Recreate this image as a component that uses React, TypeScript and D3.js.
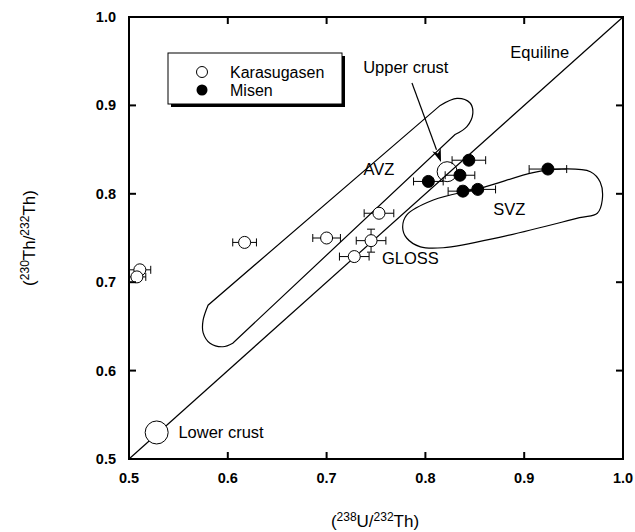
import React from "react";
import * as d3 from "d3";

const W = 635;
const H = 532;

// Karasugasen (open circles)
const karX = [0.511, 0.508, 0.617, 0.7, 0.753, 0.745, 0.728];
const karY = [0.714, 0.706, 0.745, 0.75, 0.778, 0.747, 0.729];
const karXErr = [0.011, 0.009, 0.012, 0.014, 0.015, 0.015, 0.015];
const karYErr = [0, 0, 0, 0, 0, 0.013, 0];

// Misen (filled circles)
const misX = [0.844, 0.835, 0.803, 0.838, 0.853, 0.924];
const misY = [0.838, 0.821, 0.814, 0.803, 0.805, 0.828];
const misXErr = [0.017, 0.015, 0.015, 0.015, 0.018, 0.019];

// Reference reservoirs
const crustNames = ["Upper crust", "Lower crust"];
const crustX = [0.822, 0.528];
const crustY = [0.825, 0.53];

// AVZ field: upper cap and lower cap (joined by straight sides)
const avzTopX = [0.815, 0.832, 0.845, 0.848, 0.842, 0.83];
const avzTopY = [0.9, 0.908, 0.903, 0.891, 0.876, 0.867];
const avzBotX = [0.605, 0.595, 0.582, 0.575, 0.575, 0.58];
const avzBotY = [0.631, 0.627, 0.631, 0.643, 0.657, 0.674];
// SVZ field outline
const svzX = [0.777, 0.781, 0.808, 0.858, 0.909, 0.936, 0.967, 0.977, 0.979, 0.974, 0.956, 0.876, 0.818, 0.795, 0.781];
const svzY = [0.762, 0.776, 0.793, 0.807, 0.824, 0.828, 0.825, 0.813, 0.793, 0.778, 0.773, 0.751, 0.739, 0.74, 0.75];

const ticks = [0.5, 0.6, 0.7, 0.8, 0.9, 1.0];

// Annotations (data coordinates)
const labelText = ["AVZ", "SVZ", "GLOSS", "Upper crust", "Equiline", "Lower crust"];
const labelX = [0.753, 0.885, 0.756, 0.737, 0.886, 0.55];
const labelY = [0.821, 0.776, 0.721, 0.937, 0.954, 0.524];
const labelAnchor = ["middle", "middle", "start", "start", "start", "start"];
const arrowFrom = [0.7864, 0.9253];
const arrowTo = [0.8158, 0.836];

const FONT = "'Liberation Sans', Arial, sans-serif";

export default function App() {
  const x = d3.scaleLinear().domain([0.5, 1.0]).range([129, 623]);
  const y = d3.scaleLinear().domain([0.5, 1.0]).range([459, 17]);

  const closed = d3
    .line<[number, number]>()
    .x((d) => x(d[0]))
    .y((d) => y(d[1]))
    .curve(d3.curveCatmullRomClosed.alpha(0.5));
  const open = d3
    .line<[number, number]>()
    .x((d) => x(d[0]))
    .y((d) => y(d[1]))
    .curve(d3.curveCatmullRom.alpha(0.5));

  const avzTop = avzTopX.map((v, i) => [v, avzTopY[i]] as [number, number]);
  const avzBot = avzBotX.map((v, i) => [v, avzBotY[i]] as [number, number]);
  const avzPath = (open(avzTop) || "") + (open(avzBot) || "").replace(/^M/, "L") + "Z";
  const svz = svzX.map((v, i) => [v, svzY[i]] as [number, number]);

  const cap = 4;
  const tickLen = 7;

  const ax0 = x(arrowFrom[0]);
  const ay0 = y(arrowFrom[1]);
  const ax1 = x(arrowTo[0]);
  const ay1 = y(arrowTo[1]);
  const ang = Math.atan2(ay1 - ay0, ax1 - ax0);
  const hl = 13;
  const hw = 4.5;
  const bx = ax1 - hl * Math.cos(ang);
  const by = ay1 - hl * Math.sin(ang);
  const head = [
    [ax1, ay1],
    [bx + hw * Math.sin(ang), by - hw * Math.cos(ang)],
    [ax1 - hl * 0.7 * Math.cos(ang), ay1 - hl * 0.7 * Math.sin(ang)],
    [bx - hw * Math.sin(ang), by + hw * Math.cos(ang)],
  ]
    .map((p) => p.join(","))
    .join(" ");

  const errH = (cx: number, cy: number, e: number, key: string) => (
    <g key={key} stroke="#000" strokeWidth={1}>
      <line x1={x(cx - e)} x2={x(cx + e)} y1={y(cy)} y2={y(cy)} />
      <line x1={x(cx - e)} x2={x(cx - e)} y1={y(cy) - cap} y2={y(cy) + cap} />
      <line x1={x(cx + e)} x2={x(cx + e)} y1={y(cy) - cap} y2={y(cy) + cap} />
    </g>
  );
  const errV = (cx: number, cy: number, e: number, key: string) => (
    <g key={key} stroke="#000" strokeWidth={1}>
      <line x1={x(cx)} x2={x(cx)} y1={y(cy - e)} y2={y(cy + e)} />
      <line x1={x(cx) - cap} x2={x(cx) + cap} y1={y(cy - e)} y2={y(cy - e)} />
      <line x1={x(cx) - cap} x2={x(cx) + cap} y1={y(cy + e)} y2={y(cy + e)} />
    </g>
  );

  return (
    <svg
      width={W}
      height={H}
      style={{ position: "absolute", left: 0, top: 0, background: "#fff" }}
      fontFamily={FONT}
    >
      <rect x={0} y={0} width={W} height={H} fill="#fff" />
      <defs>
        <clipPath id="plot">
          <rect x={129} y={17} width={494} height={442} />
        </clipPath>
      </defs>

      {/* Equiline */}
      <line x1={x(0.5)} y1={y(0.5)} x2={x(1.0)} y2={y(1.0)} stroke="#000" strokeWidth={1.2} />

      {/* Fields */}
      <path d={avzPath} fill="none" stroke="#000" strokeWidth={1.2} />
      <path d={closed(svz) || ""} fill="none" stroke="#000" strokeWidth={1.2} />

      {/* Crust reservoirs */}
      <circle cx={x(crustX[0])} cy={y(crustY[0])} r={10} fill="none" stroke="#000" strokeWidth={1} />
      <circle cx={x(crustX[1])} cy={y(crustY[1])} r={11.5} fill="#fff" stroke="#000" strokeWidth={1} />

      {/* Arrow */}
      <line x1={ax0} y1={ay0} x2={bx} y2={by} stroke="#000" strokeWidth={1.2} />
      <polygon points={head} fill="#000" />

      {/* Karasugasen */}
      <g clipPath="url(#plot)">
        {karX.map((v, i) => errH(v, karY[i], karXErr[i], "ke" + i))}
        {karX.map((v, i) => (karYErr[i] > 0 ? errV(v, karY[i], karYErr[i], "kv" + i) : null))}
        {karX.map((v, i) => (
          <circle key={"k" + i} cx={x(v)} cy={y(karY[i])} r={6} fill="#fff" stroke="#000" strokeWidth={1} />
        ))}
      </g>

      {/* Misen */}
      {misX.map((v, i) => errH(v, misY[i], misXErr[i], "me" + i))}
      {misX.map((v, i) => (
        <circle key={"m" + i} cx={x(v)} cy={y(misY[i])} r={6} fill="#000" stroke="#000" strokeWidth={1} />
      ))}

      {/* Labels */}
      {labelText.map((t, i) => (
        <text
          key={"l" + i}
          x={x(labelX[i])}
          y={y(labelY[i])}
          fontSize={16.5}
          textAnchor={labelAnchor[i] as any}
          fill="#000"
        >
          {t}
        </text>
      ))}

      {/* Axes frame */}
      <rect x={129} y={17} width={494} height={442} fill="none" stroke="#000" strokeWidth={2} />
      {ticks.map((t, i) => (
        <g key={"t" + i} stroke="#000" strokeWidth={2}>
          <line x1={x(t)} x2={x(t)} y1={459} y2={459 - tickLen} />
          <line x1={x(t)} x2={x(t)} y1={17} y2={17 + tickLen} />
          <line x1={129} x2={129 + tickLen} y1={y(t)} y2={y(t)} />
          <line x1={623} x2={623 - tickLen} y1={y(t)} y2={y(t)} />
        </g>
      ))}
      {ticks.map((t, i) => (
        <text key={"xl" + i} x={x(t)} y={483} fontSize={14.5} fontWeight="bold" textAnchor="middle" fill="#000">
          {t.toFixed(1)}
        </text>
      ))}
      {ticks.map((t, i) => (
        <text key={"yl" + i} x={116} y={y(t) + 5} fontSize={14.5} fontWeight="bold" textAnchor="end" fill="#000">
          {t.toFixed(1)}
        </text>
      ))}

      {/* Axis titles */}
      <text x={375} y={527} fontSize={17} textAnchor="middle" fill="#000">
        (<tspan fontSize={12} dy={-6}>238</tspan>
        <tspan dy={6}>U/</tspan>
        <tspan fontSize={12} dy={-6}>232</tspan>
        <tspan dy={6}>Th)</tspan>
      </text>
      <text
        transform={`translate(35,238) rotate(-90)`}
        fontSize={17}
        textAnchor="middle"
        fill="#000"
      >
        (<tspan fontSize={12} dy={-6}>230</tspan>
        <tspan dy={6}>Th/</tspan>
        <tspan fontSize={12} dy={-6}>232</tspan>
        <tspan dy={6}>Th)</tspan>
      </text>

      {/* Legend */}
      <rect x={171} y={56} width={174} height={51} fill="#000" />
      <rect x={168} y={53} width={174} height={51} fill="#fff" stroke="#000" strokeWidth={1} />
      <circle cx={202} cy={72} r={5.5} fill="#fff" stroke="#000" strokeWidth={1} />
      <circle cx={202} cy={90} r={5.5} fill="#000" />
      <text x={230} y={78} fontSize={16} fill="#000">Karasugasen</text>
      <text x={230} y={96} fontSize={16} fill="#000">Misen</text>
    </svg>
  );
}
